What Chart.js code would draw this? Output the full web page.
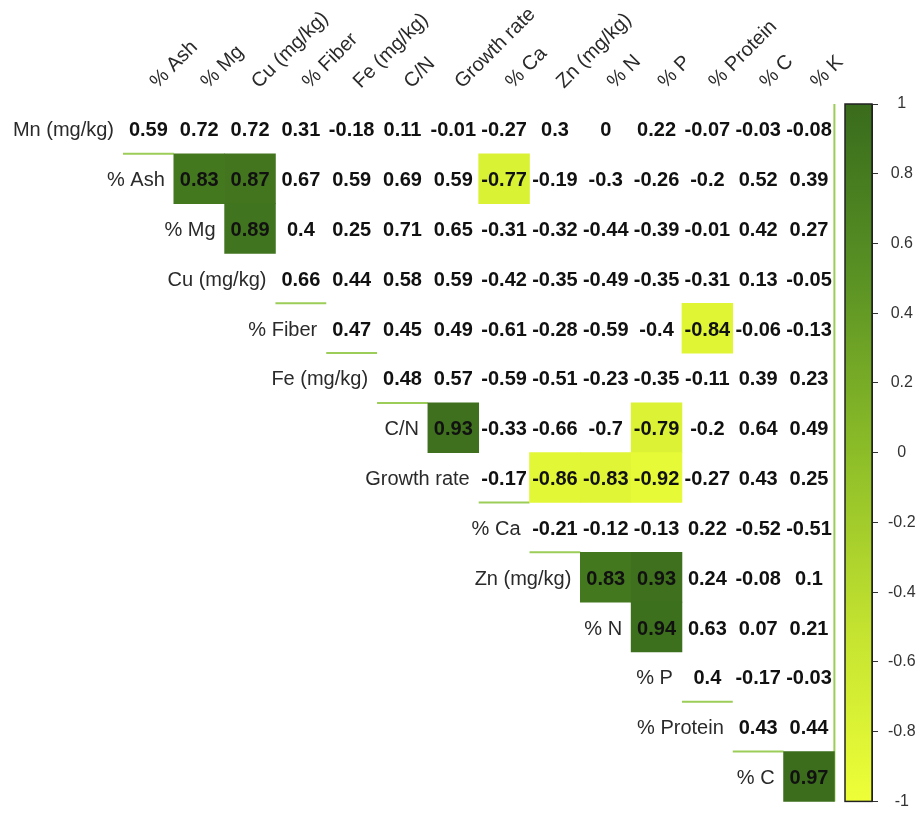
<!DOCTYPE html>
<html>
<head>
<meta charset="utf-8">
<script src="https://cdn.jsdelivr.net/npm/chart.js@4.4.1/dist/chart.umd.min.js"></script>
<style>
  html, body { margin: 0; padding: 0; background: #fff; }
  canvas { display: block; }
</style>
</head>
<body>
<canvas id="chart" width="921" height="821"></canvas>
<script>
// variables down the rows / across the columns
const rowLabels = ['Mn (mg/kg)', '% Ash', '% Mg', 'Cu (mg/kg)', '% Fiber', 'Fe (mg/kg)', 'C/N',
  'Growth rate', '% Ca', 'Zn (mg/kg)', '% N', '% P', '% Protein', '% C'];
const colLabels = ['% Ash', '% Mg', 'Cu (mg/kg)', '% Fiber', 'Fe (mg/kg)', 'C/N', 'Growth rate',
  '% Ca', 'Zn (mg/kg)', '% N', '% P', '% Protein', '% C', '% K'];

// upper triangle: row i starts at column i
const rowMn = [0.59, 0.72, 0.72, 0.31, -0.18, 0.11, -0.01, -0.27, 0.3, 0, 0.22, -0.07, -0.03, -0.08];
const rowAsh = [0.83, 0.87, 0.67, 0.59, 0.69, 0.59, -0.77, -0.19, -0.3, -0.26, -0.2, 0.52, 0.39];
const rowMg = [0.89, 0.4, 0.25, 0.71, 0.65, -0.31, -0.32, -0.44, -0.39, -0.01, 0.42, 0.27];
const rowCu = [0.66, 0.44, 0.58, 0.59, -0.42, -0.35, -0.49, -0.35, -0.31, 0.13, -0.05];
const rowFiber = [0.47, 0.45, 0.49, -0.61, -0.28, -0.59, -0.4, -0.84, -0.06, -0.13];
const rowFe = [0.48, 0.57, -0.59, -0.51, -0.23, -0.35, -0.11, 0.39, 0.23];
const rowCN = [0.93, -0.33, -0.66, -0.7, -0.79, -0.2, 0.64, 0.49];
const rowGrowth = [-0.17, -0.86, -0.83, -0.92, -0.27, 0.43, 0.25];
const rowCa = [-0.21, -0.12, -0.13, 0.22, -0.52, -0.51];
const rowZn = [0.83, 0.93, 0.24, -0.08, 0.1];
const rowN = [0.94, 0.63, 0.07, 0.21];
const rowP = [0.4, -0.17, -0.03];
const rowProtein = [0.43, 0.44];
const rowC = [0.97];

const corrRows = [rowMn, rowAsh, rowMg, rowCu, rowFiber, rowFe, rowCN, rowGrowth, rowCa, rowZn, rowN, rowP, rowProtein, rowC];

// only strong correlations get a filled cell
const strongCut = 0.75;

// colour scale (value -> colour)
const cmapStops = [-1, -0.5, 0, 0.5, 1];
const cmapColors = ['#eeff38', '#c3e230', '#8cbd28', '#5a9224', '#396b1c'];

function hexToRgb(h) {
  return [parseInt(h.slice(1, 3), 16), parseInt(h.slice(3, 5), 16), parseInt(h.slice(5, 7), 16)];
}

function colorFor(v) {
  let k = 0;
  while (k < cmapStops.length - 2 && v > cmapStops[k + 1]) k++;
  const t = (v - cmapStops[k]) / (cmapStops[k + 1] - cmapStops[k]);
  const a = hexToRgb(cmapColors[k]);
  const b = hexToRgb(cmapColors[k + 1]);
  const c = a.map((ai, n) => Math.round(ai + (b[n] - ai) * t));
  return 'rgb(' + c.join(',') + ')';
}

const cells = [];
const cellColors = [];
corrRows.forEach((vals, i) => {
  vals.forEach((v, k) => {
    if (Math.abs(v) >= strongCut) {
      cells.push({ x: i + k, y: [i - 0.5, i + 0.5] });
      cellColors.push(colorFor(v));
    }
  });
});

const FONT = '"Liberation Sans", Arial, sans-serif';

const corrText = {
  id: 'corrText',
  beforeDatasetsDraw(chart) {
    const { ctx, chartArea, scales: { x, y, cb } } = chart;
    ctx.save();

    // leftover grid strokes under the diagonal cells and on the right edge
    ctx.strokeStyle = '#9ccd58';
    ctx.lineWidth = 2;
    ctx.beginPath();
    corrRows.forEach((vals, i) => {
      if (Math.abs(vals[0]) >= strongCut) return;
      const yy = y.getPixelForValue(i + 0.5);
      ctx.moveTo(x.getPixelForValue(i - 0.5), yy);
      ctx.lineTo(x.getPixelForValue(i + 0.5), yy);
    });
    const xr = x.getPixelForValue(colLabels.length - 0.5);
    ctx.moveTo(xr, y.getPixelForValue(-0.5));
    ctx.lineTo(xr, y.getPixelForValue(rowLabels.length - 0.5));
    ctx.stroke();

    // colour bar
    const x1 = chartArea.right;
    const x0 = x1 - 27;
    const top = cb.getPixelForValue(1);
    const bot = cb.getPixelForValue(-1);
    const g = ctx.createLinearGradient(0, top, 0, bot);
    cmapStops.forEach((s, k) => g.addColorStop((1 - s) / 2, cmapColors[k]));
    ctx.fillStyle = g;
    ctx.fillRect(x0, top, x1 - x0, bot - top);
    ctx.strokeStyle = '#222';
    ctx.lineWidth = 1.5;
    ctx.strokeRect(x0, top, x1 - x0, bot - top);
    ctx.restore();
  },
  afterDatasetsDraw(chart) {
    const { ctx, chartArea, scales: { x, y } } = chart;
    ctx.save();

    // coefficients
    ctx.textAlign = 'center';
    ctx.textBaseline = 'middle';
    ctx.fillStyle = '#111';
    ctx.font = 'bold 20px ' + FONT;
    corrRows.forEach((vals, i) => {
      vals.forEach((v, k) => {
        ctx.fillText(String(v), x.getPixelForValue(i + k), y.getPixelForValue(i) + 2);
      });
    });

    // row names sit on the diagonal
    ctx.font = '20px ' + FONT;
    ctx.textAlign = 'right';
    ctx.fillStyle = '#2a2a2a';
    rowLabels.forEach((lab, i) => {
      ctx.fillText(lab, x.getPixelForValue(i - 0.5) - 9, y.getPixelForValue(i) + 2);
    });

    // column names, 45 degrees
    ctx.textAlign = 'left';
    ctx.textBaseline = 'alphabetic';
    colLabels.forEach((lab, j) => {
      ctx.save();
      ctx.translate(x.getPixelForValue(j) + 9, chartArea.top - 15);
      ctx.rotate(-Math.PI / 4);
      ctx.fillText(lab, 0, 0);
      ctx.restore();
    });
    ctx.restore();
  }
};

new Chart(document.getElementById('chart'), {
  type: 'bar',
  data: {
    datasets: [{
      data: cells,
      backgroundColor: cellColors,
      borderWidth: 0,
      grouped: false,
      barPercentage: 1,
      categoryPercentage: 1,
      clip: false
    }]
  },
  options: {
    responsive: false,
    animation: false,
    devicePixelRatio: 1,
    layout: { padding: { left: 123, top: 104, right: 0, bottom: 9 } },
    plugins: {
      legend: { display: false },
      tooltip: { enabled: false }
    },
    scales: {
      x: {
        type: 'linear',
        display: false,
        offset: false,
        min: -0.5,
        max: 14.24,
        ticks: { stepSize: 1, includeBounds: false }
      },
      y: {
        type: 'linear',
        display: false,
        reverse: true,
        min: -0.5,
        max: 13.5
      },
      cb: {
        type: 'linear',
        position: 'right',
        min: -1,
        max: 1,
        afterFit: function(scale) {
          scale.width = 49;
        },
        grid: { drawOnChartArea: false, tickLength: 6, color: '#333', tickColor: '#333' },
        border: { display: true, color: '#222' },
        ticks: {
          stepSize: 0.2,
          padding: 10,
          crossAlign: 'center',
          color: '#333',
          font: { size: 16, family: FONT },
          callback: function(value) {
            return String(Math.round(value * 10) / 10);
          }
        }
      }
    }
  },
  plugins: [corrText]
});
</script>
</body>
</html>
